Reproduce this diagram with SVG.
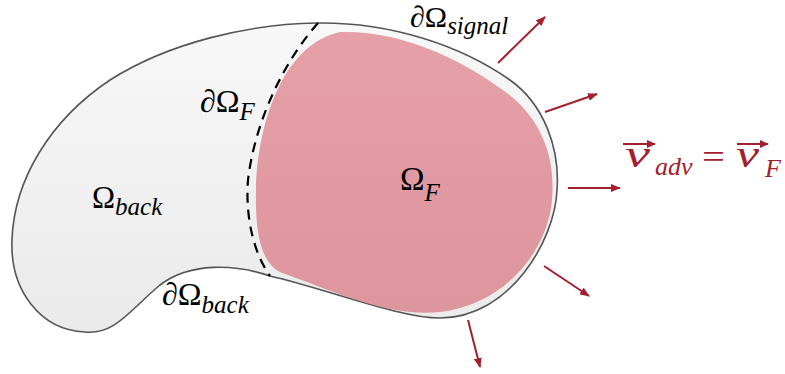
<svg xmlns="http://www.w3.org/2000/svg" width="785" height="374" viewBox="0 0 785 374">
  <style>
    text { font-family: 'Liberation Serif', 'Times New Roman', serif; }
    .lbl { fill: #000000; }
    .sub { font-style: italic; }
    .vec { fill: #a3202e; font-style: italic; }
    .arr { stroke: #a3202e; stroke-width: 2; fill: none; marker-end: url(#ah); }
    .over { stroke: #a3202e; stroke-width: 2; fill: none; marker-end: url(#ahs); }
  </style>
  <defs>
    <linearGradient id="gBack" x1="0" y1="0" x2="0" y2="1">
      <stop offset="0" stop-color="#f8f8f8"/>
      <stop offset="1" stop-color="#eaeaea"/>
    </linearGradient>
    <linearGradient id="gPink" x1="0" y1="0" x2="0" y2="1">
      <stop offset="0" stop-color="#e6a0a8"/>
      <stop offset="1" stop-color="#dd959e"/>
    </linearGradient>
    <marker id="ah" markerWidth="10" markerHeight="8" refX="9" refY="4" orient="auto" markerUnits="userSpaceOnUse">
      <path d="M0,0 L10,4 L0,8 Z" fill="#a3202e"/>
    </marker>
    <marker id="ahs" markerWidth="9" markerHeight="8" refX="8" refY="4" orient="auto" markerUnits="userSpaceOnUse">
      <path d="M0,0 L9,4 L0,8 Z" fill="#a3202e"/>
    </marker>
  </defs>

  <g id="omega-back">
    <path d="M317 23 C390 22 460 45 510 80 C545 105 560 150 557 190 C555 240 510 318 440 318 C400 318 330 290 270 276 C235 264 190 262 160 285 C130 310 115 335 85 332 C40 330 10 290 12 240 C14 180 50 120 110 80 C170 42 250 24 317 23 Z" fill="url(#gBack)" stroke="#555" stroke-width="1.6"/>
  </g>

  <g id="omega-f">
    <path d="M340 32 C395 30 455 55 500 88 C540 115 556 155 552 200 C548 250 505 305 440 312 C390 318 330 290 280 272 C260 262 255 230 256 190 C257 130 280 45 340 32 Z" fill="url(#gPink)"/>
  </g>

  <g id="boundary-f">
    <path d="M318 23 C285 60 255 120 248 180 C245 220 255 255 270 276" fill="none" stroke="#000" stroke-width="2.2" stroke-dasharray="10 7"/>
  </g>

  <g id="connectors">
    <line class="arr" x1="498" y1="63" x2="545" y2="17"/>
    <line class="arr" x1="545" y1="112" x2="597" y2="94"/>
    <line class="arr" x1="568" y1="188" x2="620" y2="188"/>
    <line class="arr" x1="544" y1="266" x2="589" y2="296"/>
    <line class="arr" x1="468" y1="320" x2="480" y2="367"/>
  </g>

  <g id="label-signal">
    <text class="lbl" x="410" y="27" font-size="30">∂Ω<tspan class="sub" font-size="25" dy="7">signal</tspan></text>
  </g>
  <g id="label-dF">
    <text class="lbl" x="200" y="112" font-size="32">∂Ω<tspan class="sub" font-size="25" dy="8">F</tspan></text>
  </g>
  <g id="label-back">
    <text class="lbl" x="92" y="208" font-size="31">Ω<tspan class="sub" font-size="25" dy="7">back</tspan></text>
  </g>
  <g id="label-dback">
    <text class="lbl" x="162" y="305" font-size="32">∂Ω<tspan class="sub" font-size="25" dy="8">back</tspan></text>
  </g>
  <g id="label-F">
    <text class="lbl" x="400" y="190" font-size="33">Ω<tspan class="sub" font-size="25" dy="11">F</tspan></text>
  </g>

  <g id="label-v">
    <text class="vec" x="625" y="167" font-size="38" textLength="25" lengthAdjust="spacingAndGlyphs">v</text>
    <line class="over" x1="623" y1="144" x2="655" y2="144"/>
    <text class="vec" x="655" y="175" font-size="26">adv</text>
    <text x="702" y="168" font-size="34" fill="#a3202e" textLength="23" lengthAdjust="spacingAndGlyphs">=</text>
    <text class="vec" x="736" y="167" font-size="38" textLength="23" lengthAdjust="spacingAndGlyphs">v</text>
    <line class="over" x1="737" y1="144" x2="768" y2="144"/>
    <text class="vec" x="765" y="177" font-size="26">F</text>
  </g>
</svg>
